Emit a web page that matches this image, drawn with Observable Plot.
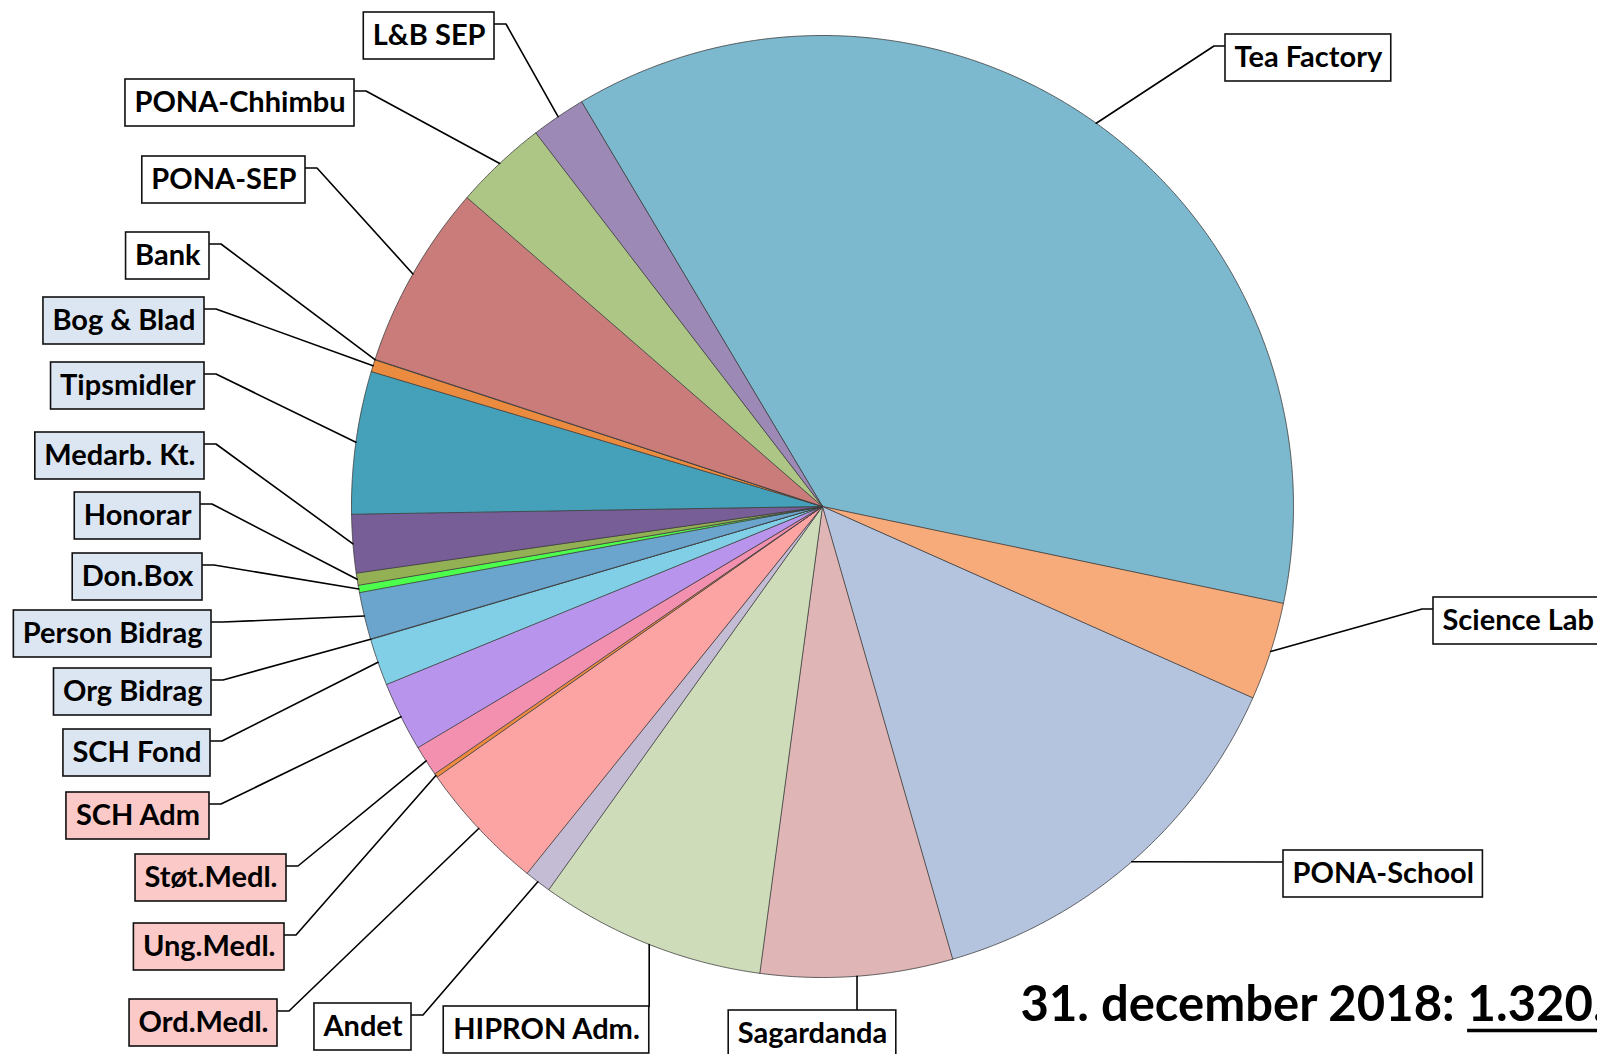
<!DOCTYPE html>
<html><head><meta charset="utf-8">
<script src="https://cdn.jsdelivr.net/npm/d3@7"></script>
<script src="https://cdn.jsdelivr.net/npm/@observablehq/plot@0.6"></script>
<style>
html,body{margin:0;padding:0;background:#fff;overflow:hidden;}
#chart{width:1597px;height:1054px;overflow:hidden;}
</style></head><body><div id="chart"></div>
<script>
// ---- data (clockwise from the start of "Tea Factory") ----
const categories = ["Tea Factory","Science Lab","PONA-School","Sagardanda","HIPRON Adm.","Andet","Ord.Medl.","Ung.Medl.","Støt.Medl.","SCH Adm","SCH Fond","Org Bidrag","Person Bidrag","Don.Box","Honorar","Medarb. Kt.","Tipsmidler","Bog & Blad","Bank","PONA-SEP","PONA-Chhimbu","L&B SEP"];
const values = [486600,44400,183300,86900,102300,12100,59000,1800,13900,31500,21300,200,21300,3300,5500,26400,64500,5500,200,83600,42200,24600];
const titleText = "31. december 2018: ";
const totalText = "1.320.";

// ---- styles ----
const sliceColors = ["#7cb8ce","#f7ab7a","#b5c4de","#dfb5b6","#cedcb9","#c3bcd4","#fca3a4","#ee8a3e","#f390b0","#b994ec","#80cfe6","#6fa8d0","#6ba5ce","#4dff4d","#94b054","#775e97","#45a1ba","#ea8b3f","#ea8b3f","#c97c7a","#adc686","#9c89b6"];
const labelFills = ["#ffffff","#ffffff","#ffffff","#ffffff","#ffffff","#ffffff","#fcc9c9","#fcc9c9","#fcc9c9","#fcc9c9","#dce6f2","#dce6f2","#dce6f2","#dce6f2","#dce6f2","#dce6f2","#dce6f2","#dce6f2","#ffffff","#ffffff","#ffffff","#ffffff"];

// ---- layout of the callout boxes (attach edge x, box top y) ----
const labelSide  = ["R","R","R","B","B","L","L","L","L","L","L","L","L","L","L","L","L","L","L","L","L","L"];
const labelEdgeX = [1225,1433,1283,812,546,411,277,284,286,209,210,211,211,202,200,204,204,204,209,305,354,494];
const labelTop   = [34,597,850,1010,1006,1003,999,923,854,792,729,668,610,553,492,432,362,297,232,156,79,12];

const W = 1597, H = 1054;
const CX = 822, CY = 506, R = 471;
const START = 329.2 * Math.PI / 180;
const BOX_H = 47, PAD = 9, FS = 29, ATTACH = 11.5, ELBOW = 11.5;

const ctx = document.createElement("canvas").getContext("2d");
function measure(t, size){ ctx.font = `bold ${size}px Lato`; return ctx.measureText(t).width; }

const rows = categories.map((name,i)=>({name, value: values[i], color: sliceColors[i], i}));
const arcs = d3.pie().sort(null).value(d=>d.value).startAngle(START).endAngle(START + 2*Math.PI)(rows);

const px = a => CX + R*Math.sin(a), py = a => CY - R*Math.cos(a);

const slicePts = [];
for (const a of arcs) {
  const n = Math.max(2, Math.ceil((a.endAngle - a.startAngle) / (0.25*Math.PI/180)));
  slicePts.push({name:a.data.name, color:a.data.color, x:CX, y:CY});
  for (let k=0;k<=n;k++){
    const t = a.startAngle + (a.endAngle - a.startAngle)*k/n;
    slicePts.push({name:a.data.name, color:a.data.color, x:px(t), y:py(t)});
  }
}

const boxes = [], leaders = [];
arcs.forEach((a,i)=>{
  const name = a.data.name;
  const w = measure(name, FS) + 2*PAD;
  const mid = (a.startAngle + a.endAngle)/2;
  const ex = px(mid), ey = py(mid);
  const side = labelSide[i], edge = labelEdgeX[i], top = labelTop[i];
  let x1, x2;
  if (side === "L") {
    x1 = edge - w; x2 = edge;
    leaders.push({name, x:edge, y:top+ATTACH},{name, x:edge+ELBOW, y:top+ATTACH},{name, x:ex, y:ey});
  } else if (side === "R") {
    x1 = edge; x2 = edge + w;
    leaders.push({name, x:edge, y:top+ATTACH},{name, x:edge-ELBOW, y:top+ATTACH},{name, x:ex, y:ey});
  } else {
    x1 = edge - w/2; x2 = edge + w/2;
    leaders.push({name, x:ex, y:top},{name, x:ex, y:ey});
  }
  boxes.push({name, x1, x2, y1:top, y2:top+BOX_H, cx:(x1+x2)/2, cy:top+BOX_H/2, fill:labelFills[i]});
});

const TFS = 49, TX = 1020, TBASE = 1020;
const w1 = measure(titleText, TFS), w2 = measure(totalText, TFS);
const titleRows = [{t:titleText, x:TX}, {t:totalText, x:TX + w1}];

const plot = Plot.plot({
  width: W, height: H, margin: 0,
  x: {domain:[0,W], range:[0,W], axis:null},
  y: {domain:[0,H], range:[0,H], axis:null},
  style: {background:"#fff", fontFamily:"Lato, 'Open Sans', sans-serif", overflow:"hidden"},
  marks: [
    Plot.line(slicePts, {x:"x", y:"y", z:"name", fill:"color", stroke:"#3c3c3c", strokeWidth:0.8, curve:"linear-closed"}),
    Plot.line(leaders, {x:"x", y:"y", z:"name", stroke:"#000", strokeWidth:1.6}),
    Plot.rect(boxes, {x1:"x1", x2:"x2", y1:"y1", y2:"y2", fill:"fill", stroke:"#111", strokeWidth:1.6}),
    Plot.text(boxes, {x:"cx", y:"cy", text:"name", fontSize:FS, fontWeight:"bold", fill:"#000"}),
    Plot.text(titleRows, {x:"x", y: TBASE - 0.32*TFS, text:"t", textAnchor:"start", fontSize:TFS, fontWeight:"bold", fill:"#000"}),
    Plot.ruleY([{y:TBASE+10, x1:TX+w1, x2:TX+w1+w2}], {y:"y", x1:"x1", x2:"x2", stroke:"#000", strokeWidth:3.5})
  ]
});
document.getElementById("chart").appendChild(plot);
</script>
</body></html>
